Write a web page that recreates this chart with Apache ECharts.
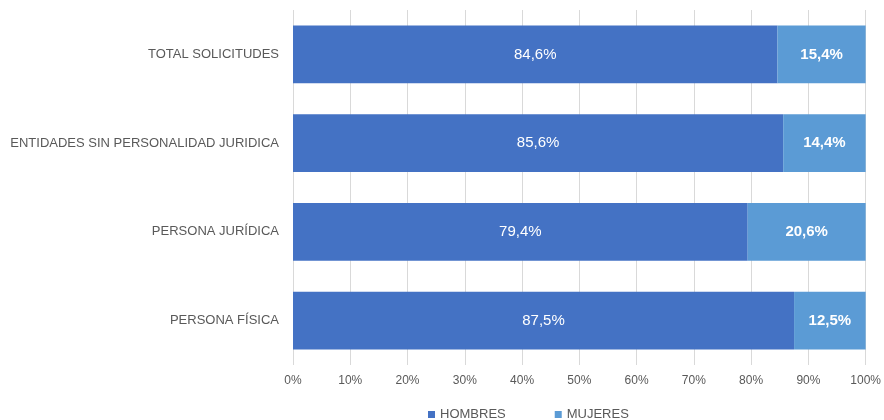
<!DOCTYPE html>
<html><head><meta charset="utf-8">
<script src="https://cdn.jsdelivr.net/npm/echarts@6/dist/echarts.min.js"></script>
<style>html,body{margin:0;padding:0;background:#fff}#c{width:884px;height:420px}</style>
</head><body><div id="c"></div>
<script>
const categories = ['PERSONA FÍSICA', 'PERSONA JURÍDICA', 'ENTIDADES SIN PERSONALIDAD JURIDICA', 'TOTAL SOLICITUDES'];
const hombres = [87.5, 79.4, 85.6, 84.6];
const mujeres = [12.5, 20.6, 14.4, 15.4];
const fmt = v => v.toFixed(1).replace('.', ',') + '%';
const FF = '"Liberation Sans", Arial, sans-serif';
const chart = echarts.init(document.getElementById('c'));
chart.setOption({
  animation: false,
  grid: {left: 293, right: 13, top: 10, bottom: 55, containLabel: false},
  legend: {
    bottom: -6, left: 423, itemWidth: 7, itemHeight: 7, itemGap: 49, icon: 'rect',
    textStyle: {color: '#595959', fontSize: 13, fontFamily: FF},
    data: ['HOMBRES', 'MUJERES']
  },
  xAxis: {
    type: 'value', min: 0, max: 100, interval: 10,
    axisLabel: {formatter: '{value}%', color: '#595959', fontSize: 12, fontFamily: FF, margin: 10},
    splitLine: {lineStyle: {color: '#d9d9d9'}},
    axisLine: {show: false}, axisTick: {show: false}
  },
  yAxis: {
    type: 'category', data: categories,
    axisLabel: {color: '#595959', fontSize: 13, fontFamily: FF, margin: 14},
    axisLine: {show: false}, axisTick: {show: false}
  },
  series: [
    {name: 'HOMBRES', type: 'bar', stack: 't', data: hombres, barCategoryGap: '35%',
     itemStyle: {color: '#4472C4'},
     label: {show: true, position: 'inside', color: '#fff', fontSize: 15, fontFamily: FF, formatter: p => fmt(p.value)}},
    {name: 'MUJERES', type: 'bar', stack: 't', data: mujeres, barCategoryGap: '35%',
     itemStyle: {color: '#5B9BD5'},
     label: {show: true, position: 'inside', color: '#fff', fontSize: 15, fontWeight: 'bold', fontFamily: FF, formatter: p => fmt(p.value)}}
  ]
});
</script></body></html>
